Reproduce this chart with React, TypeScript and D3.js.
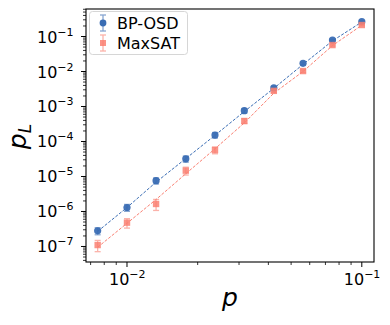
import React from 'react';
import * as d3 from 'd3';

// physical error rates
const pValues = [0.0075, 0.01, 0.0133, 0.0178, 0.0237, 0.0316, 0.0422, 0.0562, 0.075, 0.1];

// logical error rates (markers) and their error bars
const bpOsd = [2.8e-7, 1.3e-6, 7.6e-6, 3.2e-5, 1.53e-4, 7.6e-4, 3.4e-3, 1.71e-2, 7.9e-2, 0.265];
const bpOsdErr = [0.64e-7, 0.29e-6, 1.5e-6, 0.64e-5, 2.75e-5, 1.14e-4, 3.4e-4, 1.37e-3, 4e-3, 8e-3];
const maxSat = [1.1e-7, 4.8e-7, 1.64e-6, 1.47e-5, 5.7e-5, 3.85e-4, 2.8e-3, 1.03e-2, 5.7e-2, 0.213];
const maxSatErr = [0.39e-7, 1.45e-7, 0.57e-6, 3.7e-6, 1.25e-5, 5.8e-5, 2.8e-4, 0.82e-3, 3.4e-3, 8.5e-3];

// dashed fit curves
const bpOsdFit = [2.7e-7, 1.3e-6, 6.9e-6, 3.25e-5, 1.5e-4, 7.2e-4, 3.3e-3, 1.6e-2, 7.5e-2, 0.26];
const maxSatFit = [0.95e-7, 4.6e-7, 2.2e-6, 1.2e-5, 6.2e-5, 3.4e-4, 2.4e-3, 1.0e-2, 5.5e-2, 0.21];

const xMajor = [0.01, 0.1];
const xMinor = [0.007, 0.008, 0.009, 0.02, 0.03, 0.04, 0.05, 0.06, 0.07, 0.08, 0.09];
const yMajorExp = [-7, -6, -5, -4, -3, -2, -1];

const BLUE = '#3a6db4';
const RED = '#fa8072';
const FONT = 'DejaVu Sans, sans-serif';

const W = 390;
const H = 325;
const L = 86, R = 374, T = 9, B = 262;

const x = d3.scaleLog().domain([0.00669, 0.1127]).range([L, R]);
const y = d3.scaleLog().domain([3.6e-8, 0.611]).range([B, T]);

const yMinor: number[] = [];
for (let e = -8; e <= 0; e++) {
  for (let k = 2; k <= 9; k++) {
    const v = k * Math.pow(10, e);
    if (v > y.domain()[0] && v < y.domain()[1]) yMinor.push(v);
  }
}

const Sup = ({ base, exp, ...rest }: any) => (
  <text fontFamily={FONT} {...rest}>
    {base}
    <tspan fontSize="11" dy="-7">{exp}</tspan>
  </text>
);

const Series = ({ vals, errs, fit, color, marker }: any) => {
  const line = d3.line<number>().x((_, i) => x(pValues[i])).y(d => y(d));
  return (
    <g>
      <path d={line(fit) || ''} fill="none" stroke={color} strokeWidth={1} strokeDasharray="3,1.6" />
      {vals.map((v: number, i: number) =>
        marker === 'circle' ? (
          <circle key={'m' + i} cx={x(pValues[i])} cy={y(v)} r={3.6} fill={color} opacity={0.95} />
        ) : (
          <rect key={'m' + i} x={x(pValues[i]) - 3.2} y={y(v) - 3.2} width={6.4} height={6.4} fill={color} opacity={0.85} />
        )
      )}
      {vals.map((v: number, i: number) => {
        const cx = x(pValues[i]);
        const lo = y(Math.max(v - errs[i], 1e-12));
        const hi = y(v + errs[i]);
        return (
          <g key={i} opacity={0.6}>
            <line x1={cx} x2={cx} y1={lo} y2={hi} stroke={color} strokeWidth={1.3} />
            <line x1={cx - 3} x2={cx + 3} y1={lo} y2={lo} stroke={color} strokeWidth={1.3} />
            <line x1={cx - 3} x2={cx + 3} y1={hi} y2={hi} stroke={color} strokeWidth={1.3} />
          </g>
        );
      })}
    </g>
  );
};

export default function App() {
  return (
    <svg width={W} height={H} style={{ position: 'absolute', left: 0, top: 0, background: '#fff' }}>
      <rect x={0} y={0} width={W} height={H} fill="#fff" />
      <Series vals={bpOsd} errs={bpOsdErr} fit={bpOsdFit} color={BLUE} marker="circle" />
      <Series vals={maxSat} errs={maxSatErr} fit={maxSatFit} color={RED} marker="square" />

      {/* frame */}
      <rect x={L} y={T} width={R - L} height={B - T} fill="none" stroke="#000" strokeWidth={1.1} />

      {/* x ticks */}
      {xMinor.map(v => (
        <line key={'xm' + v} x1={x(v)} x2={x(v)} y1={B} y2={B + 3} stroke="#000" strokeWidth={0.8} />
      ))}
      {xMajor.map((v, i) => (
        <g key={'xM' + v}>
          <line x1={x(v)} x2={x(v)} y1={B} y2={B + 5} stroke="#000" strokeWidth={1} />
          <Sup base="10" exp={i === 0 ? '−2' : '−1'} x={x(v) - 18} y={285} fontSize="16" />
        </g>
      ))}

      {/* y ticks */}
      {yMinor.map(v => (
        <line key={'ym' + v} x1={L - 3} x2={L} y1={y(v)} y2={y(v)} stroke="#000" strokeWidth={0.8} />
      ))}
      {yMajorExp.map(e => (
        <g key={'yM' + e}>
          <line x1={L - 5} x2={L} y1={y(Math.pow(10, e))} y2={y(Math.pow(10, e))} stroke="#000" strokeWidth={1} />
          <Sup base="10" exp={'−' + Math.abs(e)} x={37} y={y(Math.pow(10, e)) + 6} fontSize="16" />
        </g>
      ))}

      {/* axis labels */}
      <text x={(L + R) / 2} y={306} textAnchor="middle" fontFamily={FONT} fontStyle="italic" fontSize="25">p</text>
      <g transform={`translate(26, ${(T + B) / 2 + 1}) rotate(-90)`}>
        <text x={0} y={0} textAnchor="middle" fontFamily={FONT} fontStyle="italic" fontSize="25">
          p<tspan fontSize="17" dy="5">L</tspan>
        </text>
      </g>

      {/* legend */}
      <g>
        <rect x={89.5} y={11.5} width={98} height={43} rx={3} fill="#fff" fillOpacity={0.8} stroke="#d6d6d6" strokeWidth={1} />
        <circle cx={103} cy={23} r={3.4} fill={BLUE} />
        <g opacity={0.6} stroke={BLUE} strokeWidth={1.3}>
          <line x1={103} x2={103} y1={15} y2={31} />
          <line x1={100} x2={106} y1={15} y2={15} />
          <line x1={100} x2={106} y1={31} y2={31} />
        </g>
        <text x={117} y={29} fontFamily={FONT} fontSize="16">BP-OSD</text>
        <rect x={100} y={40} width={6} height={6} fill={RED} opacity={0.85} />
        <g opacity={0.6} stroke={RED} strokeWidth={1.3}>
          <line x1={103} x2={103} y1={35} y2={51} />
          <line x1={100} x2={106} y1={35} y2={35} />
          <line x1={100} x2={106} y1={51} y2={51} />
        </g>
        <text x={117} y={49} fontFamily={FONT} fontSize="16">MaxSAT</text>
      </g>
    </svg>
  );
}
